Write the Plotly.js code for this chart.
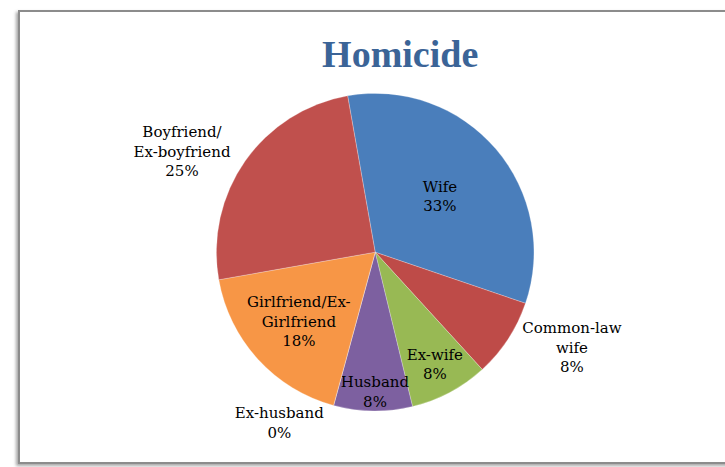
<!DOCTYPE html>
<html>
<head>
<meta charset="utf-8">
<script src="https://cdn.plot.ly/plotly-3.0.1.min.js"></script>
<style>
  html, body { margin: 0; padding: 0; background: #ffffff; }
  #frame {
    position: absolute; left: 18px; top: 10px; width: 712px; height: 450px;
    border: 2px solid #8c8c8c; background: #ffffff;
    box-shadow: -2px 2px 3px rgba(0,0,0,0.35);
  }
  #chart { position: absolute; left: 0; top: 0; width: 725px; height: 467px; }
</style>
</head>
<body>
<div id="frame"></div>
<div id="chart"></div>
<script>
// Data
const categories = ["Wife", "Common-law wife", "Ex-wife", "Husband", "Ex-husband", "Girlfriend/Ex-Girlfriend", "Boyfriend/Ex-boyfriend"];
const displayLabels = ["Wife", "Common-law<br>wife", "Ex-wife", "Husband", "Ex-husband", "Girlfriend/Ex-<br>Girlfriend", "Boyfriend/<br>Ex-boyfriend"];
const percentValues = [33, 8, 8, 8, 0, 18, 25];

const sliceColors = ["#4a7ebb", "#be4b48", "#98b954", "#7d60a0", "#46aac5", "#f79646", "#c0504d"];
const textPositions = ["inside", "outside", "inside", "inside", "outside", "inside", "outside"];

const serif = "'DejaVu Serif', serif";
const titleSerif = "'Liberation Serif', serif";

const trace = {
  type: "pie",
  labels: categories,
  values: percentValues,
  text: displayLabels,
  texttemplate: "%{text}<br>%{percent:.0%}",
  textinfo: "text",
  textposition: textPositions,
  sort: false,
  direction: "clockwise",
  rotation: -10,
  hoverinfo: "label+percent",
  marker: { colors: sliceColors, line: { color: "rgba(255,255,255,0.5)", width: 0.5 } },
  textfont: { family: serif, size: 15, color: "#000000" },
  insidetextfont: { family: serif, size: 15, color: "#000000" },
  outsidetextfont: { family: serif, size: 15, color: "#000000" },
  insidetextorientation: "horizontal",
  domain: { x: [0.29, 0.745], y: [0.12, 0.80] },
  showlegend: false
};

const layout = {
  width: 725,
  height: 467,
  margin: { l: 0, r: 0, t: 0, b: 0 },
  paper_bgcolor: "rgba(0,0,0,0)",
  plot_bgcolor: "rgba(0,0,0,0)",
  showlegend: false,
  uniformtext: { mode: "show", minsize: 15 },
  font: { family: serif, size: 15, color: "#000000" },
  title: {
    text: "<b>Homicide</b>",
    x: 0.552, xanchor: "center",
    y: 0.885, yanchor: "middle",
    font: { family: titleSerif, size: 38, color: "#3b6497" }
  }
};

Plotly.newPlot("chart", [trace], layout, { displayModeBar: false, staticPlot: true });
</script>
</body>
</html>
